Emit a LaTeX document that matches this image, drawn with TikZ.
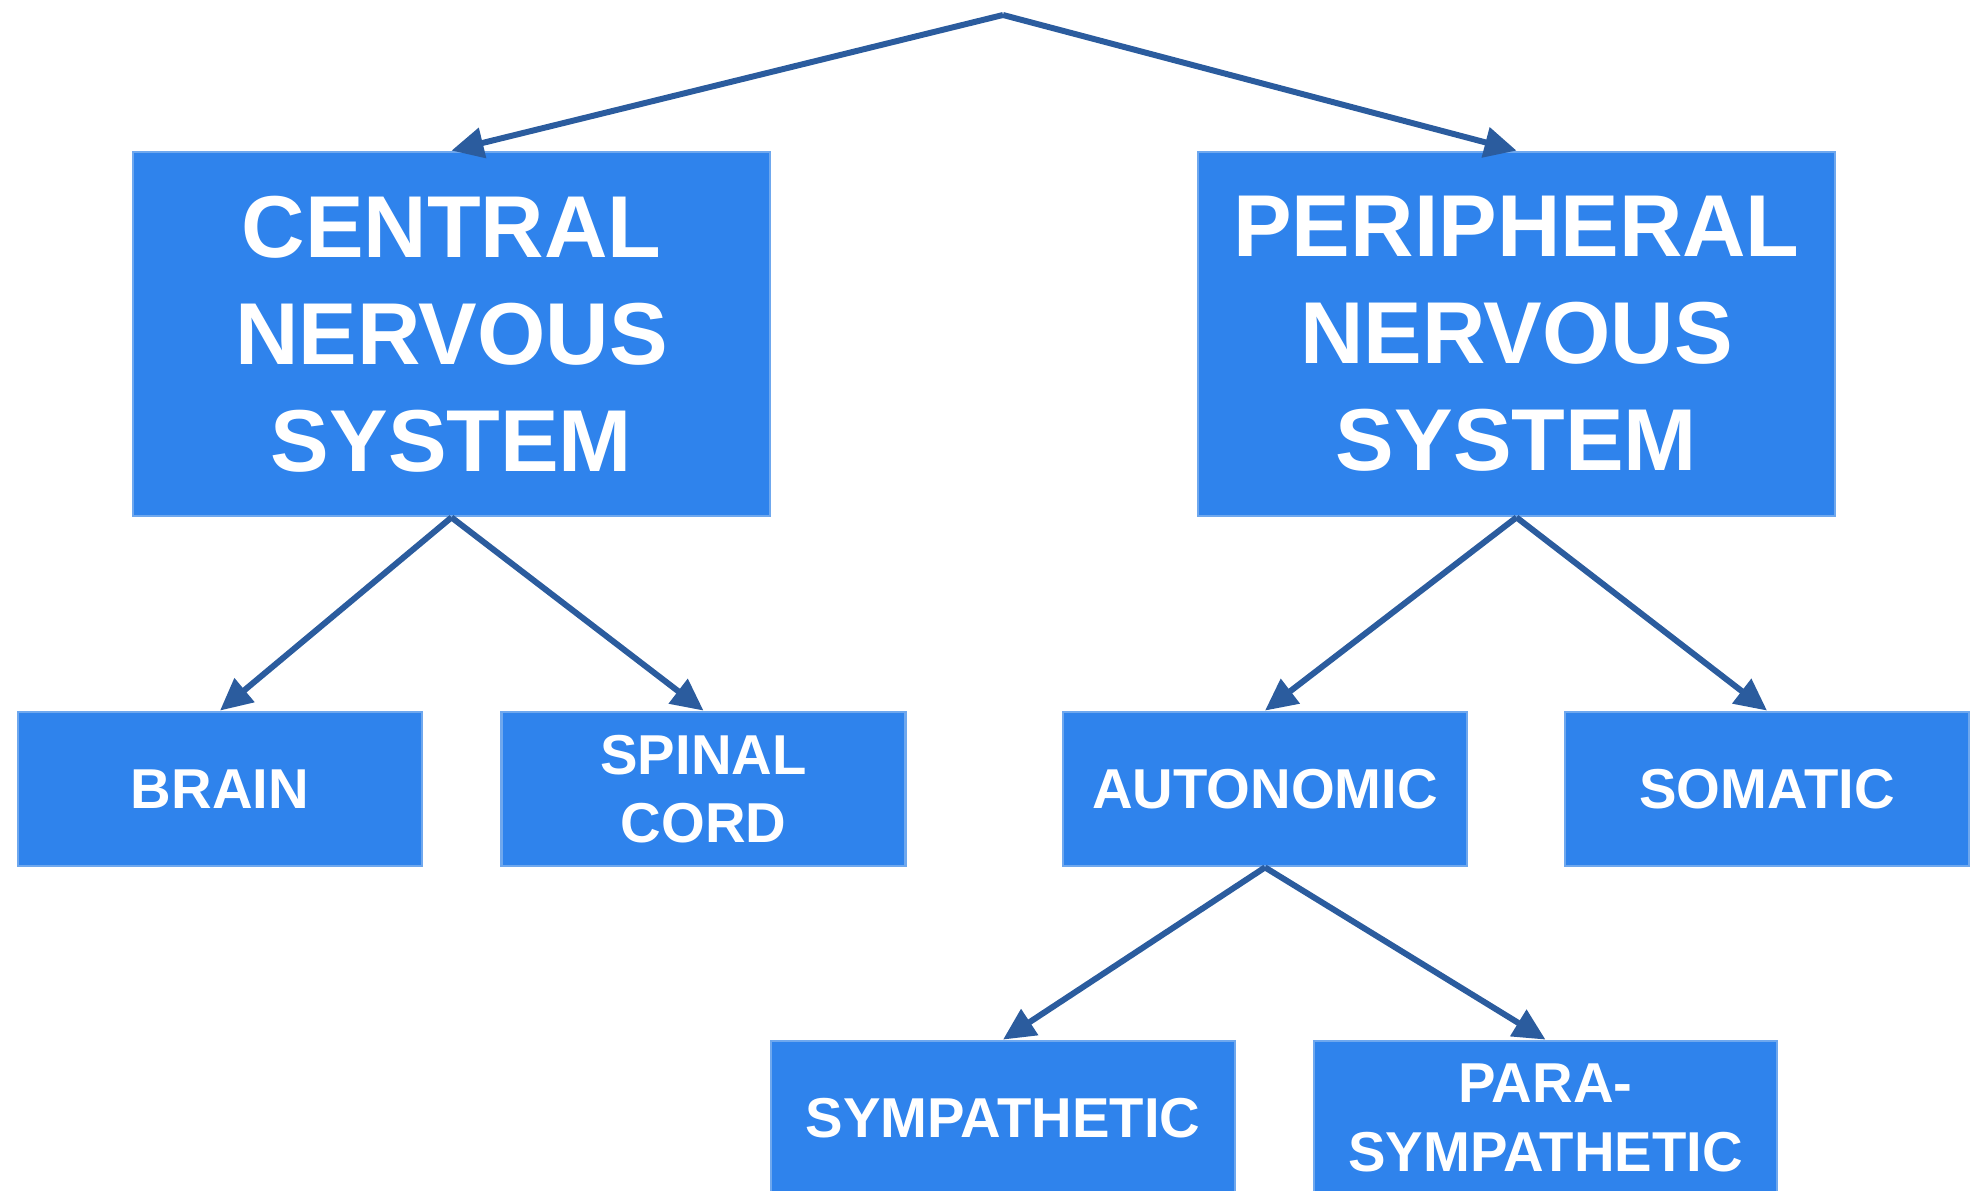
\documentclass[tikz,border=0pt]{standalone}
\usepackage{fontspec}
\setmainfont{Liberation Sans}
\usetikzlibrary{arrows.meta}

\definecolor{boxblue}{HTML}{2F83EC}
\definecolor{edgeblue}{HTML}{6FA8EE}
\definecolor{arrowblue}{HTML}{2B5C9E}

\begin{document}
\begin{tikzpicture}[x=1cm, y=1cm,
	big/.style = {draw=edgeblue, line width=0.8pt, fill=boxblue, text=white, align=center,
		minimum width=6.37cm, minimum height=3.64cm, inner sep=0pt,
		font=\fontsize{25}{30.5}\selectfont\bfseries},
	small/.style = {draw=edgeblue, line width=0.8pt, fill=boxblue, text=white, align=center,
		minimum width=4.04cm, minimum height=1.54cm, inner sep=0pt,
		font=\fontsize{16}{19.5}\selectfont\bfseries},
	arr/.style = {draw=arrowblue, line width=1.7pt, -{Triangle[length=3.2mm, width=3mm]}}]
	\useasboundingbox (0,0) rectangle (19.7,-11.9);
	\coordinate (0) at (10.03,-0.15);
	\node[big] (1) at (4.515,-3.34) {CENTRAL\\NERVOUS\\SYSTEM};
	\node[big] (2) at (15.165,-3.34) {PERIPHERAL\\NERVOUS\\SYSTEM};
	\node[small] (3) at (2.20,-7.89) {BRAIN};
	\node[small] (4) at (7.035,-7.89) {SPINAL\\CORD};
	\node[small] (5) at (12.65,-7.89) {AUTONOMIC};
	\node[small] (6) at (17.67,-7.89) {SOMATIC};
	\node[small, minimum width=4.64cm] (7) at (10.03,-11.18) {SYMPATHETIC};
	\node[small, minimum width=4.63cm] (8) at (15.455,-11.18) {PARA-\\SYMPATHETIC};
	\draw[arr] (0) -- (1.north);
	\draw[arr] (0) -- (2.north);
	\draw[arr] (1.south) -- (3.north);
	\draw[arr] (1.south) -- (4.north);
	\draw[arr] (2.south) -- (5.north);
	\draw[arr] (2.south) -- (6.north);
	\draw[arr] (5.south) -- (7.north);
	\draw[arr] (5.south) -- (8.north);
\end{tikzpicture}
\end{document}
